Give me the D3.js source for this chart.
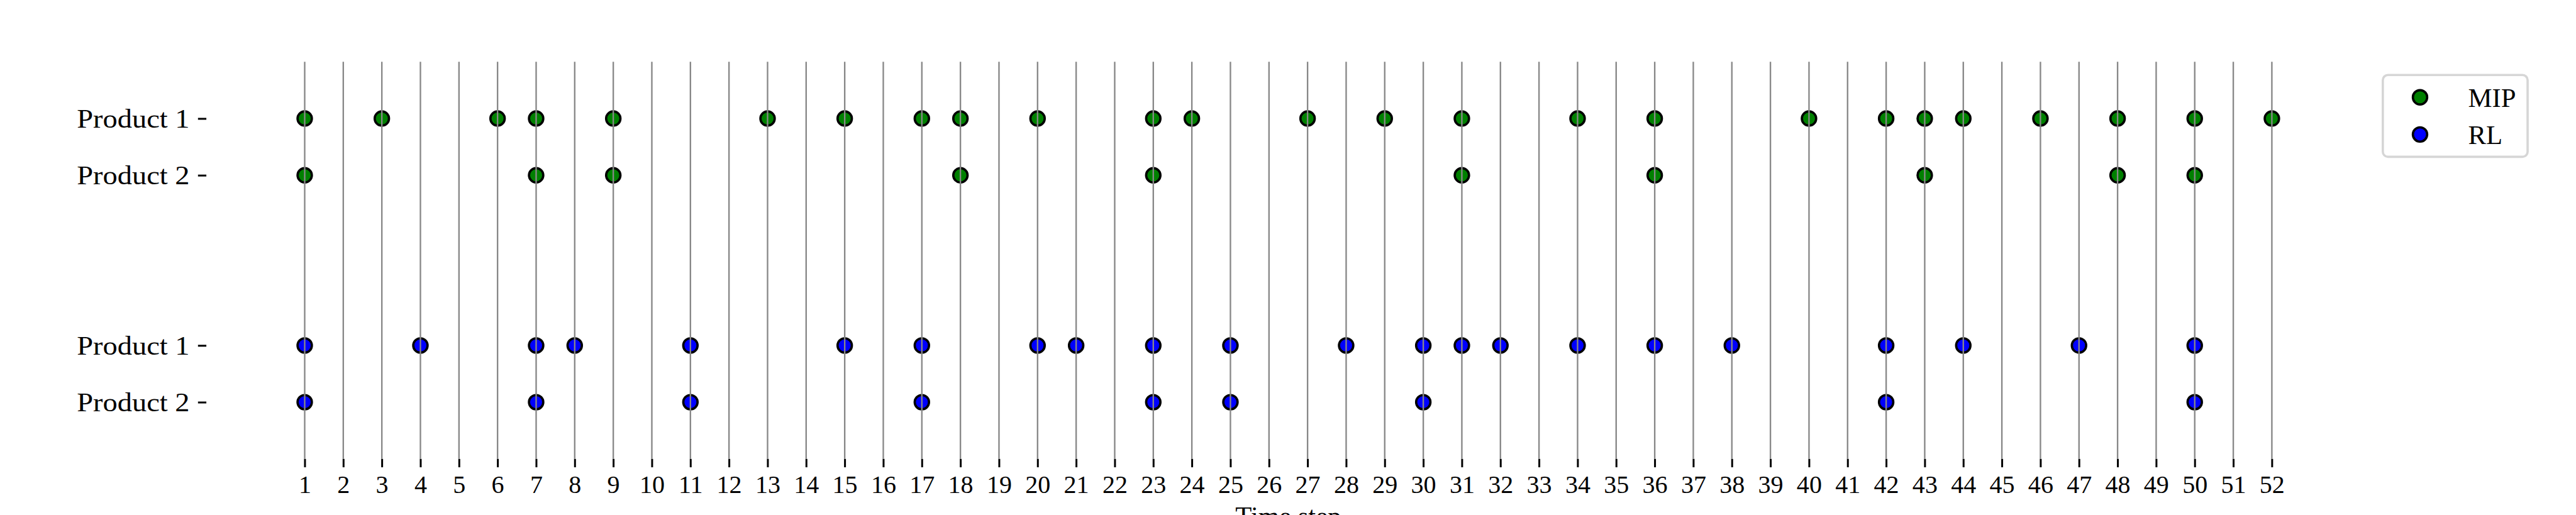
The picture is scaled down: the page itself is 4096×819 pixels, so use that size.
<!DOCTYPE html>
<html>
<head>
<meta charset="utf-8">
<script src="https://cdn.jsdelivr.net/npm/d3@7"></script>
<style>
  html, body { margin: 0; padding: 0; background: #ffffff; overflow: hidden; }
  svg { display: block; }
  text { font-family: "Liberation Serif", "DejaVu Serif", serif; fill: #000; }
</style>
</head>
<body>
<svg id="chart"></svg>
<script>
// ---------------- data ----------------
const timeSteps = [1,2,3,4,5,6,7,8,9,10,11,12,13,14,15,16,17,18,19,20,21,22,23,24,25,26,
                   27,28,29,30,31,32,33,34,35,36,37,38,39,40,41,42,43,44,45,46,47,48,49,50,51,52];
const rowLabels = ["Product 1", "Product 2", "Product 1", "Product 2"];
const rowValues = [5, 4, 1, 0];
const seriesNames = ["MIP", "RL"];
const seriesColors = ["#008000", "#0000ff"];

const mipProduct1 = [1,3,6,7,9,13,15,17,18,20,23,24,27,29,31,34,36,40,42,43,44,46,48,50,52];
const mipProduct2 = [1,7,9,18,23,31,36,43,48,50];
const rlProduct1  = [1,4,7,8,11,15,17,20,21,23,25,28,30,31,32,34,36,38,42,44,47,50];
const rlProduct2  = [1,7,11,17,23,25,30,42,50];

// ---------------- layout (reference units, scaled by viewBox) ----------------
const W = 4500, H = 900;
const svg = d3.select("#chart")
  .attr("width", 4096).attr("height", 819)
  .attr("viewBox", `0 0 ${W} ${H}`);

const axLeft = 360, axRight = 4141, axTop = 108, axBottom = 802;
const fontSize = 44;

const x = d3.scaleLinear().domain([1 - 2.55, 52 + 2.55]).range([axLeft, axRight]);
const y = d3.scaleLinear().domain([-1, 6]).range([axBottom, axTop]);

const points = [];
[[mipProduct1, rowValues[0], 0], [mipProduct2, rowValues[1], 0],
 [rlProduct1, rowValues[2], 1], [rlProduct2, rowValues[3], 1]].forEach(([arr, yv, s]) => {
  arr.forEach(t => points.push({t, yv, s}));
});

// markers
svg.append("g").selectAll("circle").data(points).join("circle")
  .attr("cx", d => x(d.t)).attr("cy", d => y(d.yv)).attr("r", 12.5)
  .attr("fill", d => seriesColors[d.s])
  .attr("stroke", "#000").attr("stroke-width", 4);

// vertical lines (drawn above the markers, as in the reference)
svg.append("g").selectAll("line").data(timeSteps).join("line")
  .attr("x1", d => x(d)).attr("x2", d => x(d))
  .attr("y1", axTop).attr("y2", axBottom)
  .attr("stroke", "#888888").attr("stroke-width", 2.6);

// x axis
const xAxis = d3.axisBottom(x).tickValues(timeSteps).tickFormat(d => String(d))
  .tickSizeInner(14.6).tickSizeOuter(0).tickPadding(14);
const gx = svg.append("g").attr("transform", `translate(0,${axBottom})`).call(xAxis);
gx.select(".domain").remove();
gx.selectAll(".tick line").attr("stroke", "#000").attr("stroke-width", 3.3);
gx.selectAll(".tick text").attr("font-size", fontSize)
  .attr("font-family", "Liberation Serif").attr("fill", "#000");

// y axis
const yAxis = d3.axisLeft(y).tickValues(rowValues)
  .tickFormat((d, i) => rowLabels[i])
  .tickSizeInner(14.6).tickSizeOuter(0).tickPadding(14.6);
const gy = svg.append("g").attr("transform", `translate(${axLeft},0)`).call(yAxis);
gy.select(".domain").remove();
gy.selectAll(".tick line").attr("stroke", "#000").attr("stroke-width", 3.3);
gy.selectAll(".tick text").attr("font-size", fontSize + 3)
  .attr("font-family", "Liberation Serif").attr("fill", "#000")
  .attr("textLength", 197).attr("lengthAdjust", "spacingAndGlyphs");

// x axis title (mostly cut off at the bottom edge, as in the reference)
svg.append("text")
  .attr("x", (axLeft + axRight) / 2).attr("y", 918)
  .attr("text-anchor", "middle").attr("font-size", fontSize + 3)
  .text("Time step");

// legend
const lg = svg.append("g");
lg.append("rect")
  .attr("x", 4163).attr("y", 131).attr("width", 253).attr("height", 143)
  .attr("rx", 9).attr("ry", 9)
  .attr("fill", "#ffffff").attr("stroke", "#d6d6d6").attr("stroke-width", 4);
const legendY = d3.scalePoint().domain(seriesNames).range([170, 235]);
const items = lg.selectAll("g.item").data(seriesNames).join("g").attr("class", "item");
items.append("circle")
  .attr("cx", 4228).attr("cy", d => legendY(d)).attr("r", 12.5)
  .attr("fill", (d, i) => seriesColors[i]).attr("stroke", "#000").attr("stroke-width", 4);
items.append("text")
  .attr("x", 4312).attr("y", d => legendY(d)).attr("dy", "0.35em")
  .attr("font-size", fontSize + 3).text(d => d);
</script>
</body>
</html>
